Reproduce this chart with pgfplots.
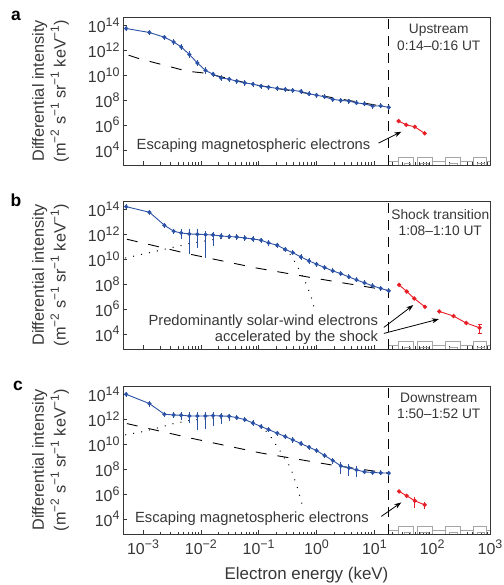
\documentclass[border=0pt]{standalone}
\usepackage{fontspec}
\setmainfont{Liberation Sans}
\usepackage{pgfplots}
\usepackage{pgfplotstable}
\pgfplotsset{compat=1.18}
\usetikzlibrary{arrows.meta}

\definecolor{specblue}{RGB}{44,82,166}
\definecolor{specred}{RGB}{232,30,38}
\definecolor{txt}{RGB}{55,55,55}
\definecolor{boxgray}{RGB}{165,165,165}

% superscript for tick labels and units
\newcommand\pw[1]{\raisebox{0.42em}{\fontsize{12.5}{13}\selectfont #1}}
\newcommand\up[1]{\raisebox{0.42em}{\fontsize{12}{13}\selectfont #1}}

% electron spectra: energy (keV), differential intensity
\pgfplotstableread{
E I
5.1e-4 5.50e13
1.29e-3 2.63e13
2.34e-3 1.10e13
3.39e-3 4.57e12
4.57e-3 1.82e12
6.31e-3 4.57e11
8.71e-3 9.55e10
1.20e-2 2.40e10
1.62e-2 1.20e10
2.24e-2 6.03e9
3.09e-2 4.79e9
4.17e-2 3.31e9
5.75e-2 2.40e9
7.94e-2 1.91e9
0.110 1.32e9
0.148 1.10e9
0.209 8.71e8
0.288 7.24e8
0.389 6.03e8
0.537 5.01e8
0.741 3.16e8
1.00 2.51e8
1.38 1.82e8
1.91 1.15e8
2.63 9.55e7
3.63 8.32e7
4.90 6.03e7
6.76 5.01e7
9.33 3.31e7
12.9 3.47e7
17.8 2.63e7
}\blueA

\pgfplotstableread{
E I
5.1e-4 1.62e14
1.29e-3 5.75e13
2.34e-3 5.25e12
3.39e-3 1.74e12
4.57e-3 1.26e12
6.31e-3 1.05e12
8.71e-3 1.00e12
1.20e-2 9.33e11
1.62e-2 8.71e11
2.24e-2 7.24e11
3.09e-2 6.46e11
4.17e-2 6.03e11
5.75e-2 5.01e11
7.94e-2 4.17e11
0.110 3.31e11
0.148 2.00e11
0.209 1.32e11
0.288 6.03e10
0.389 3.31e10
0.537 1.51e10
0.741 7.24e9
1.00 3.98e9
1.38 2.14e9
1.91 1.15e9
2.63 6.92e8
3.63 3.80e8
4.90 2.19e8
6.76 1.26e8
9.33 7.24e7
12.9 4.57e7
17.8 2.88e7
}\blueB

\pgfplotstableread{
E I
5.1e-4 1.00e14
1.29e-3 1.78e13
2.34e-3 2.51e12
3.39e-3 2.19e12
4.57e-3 2.09e12
6.31e-3 1.82e12
8.71e-3 1.82e12
1.20e-2 1.82e12
1.62e-2 1.95e12
2.24e-2 1.82e12
3.09e-2 1.74e12
4.17e-2 1.35e12
5.75e-2 9.33e11
7.94e-2 5.01e11
0.110 2.57e11
0.148 1.48e11
0.209 7.59e10
0.288 4.07e10
0.389 2.19e10
0.537 1.12e10
0.741 5.75e9
1.00 3.09e9
1.38 1.23e9
1.91 4.90e8
2.63 1.82e8
3.63 1.26e8
4.90 8.71e7
6.76 6.03e7
9.33 5.37e7
12.9 5.01e7
17.8 4.79e7
}\blueC

% error bar ends (low, high) of the points with visible bars
\pgfplotstableread{
E I
4.57e-3 1.02e12
4.57e-3 3.24e12
4.57e-3 nan
6.31e-3 2.29e11
6.31e-3 9.12e11
6.31e-3 nan
8.71e-3 5.37e10
8.71e-3 1.70e11
8.71e-3 nan
1.20e-2 1.35e10
1.20e-2 4.27e10
1.20e-2 nan
6.76 3.55e7
6.76 7.08e7
6.76 nan
9.33 2.09e7
9.33 5.25e7
9.33 nan
12.9 2.19e7
12.9 5.50e7
12.9 nan
17.8 1.86e7
17.8 3.72e7
}\errA

\pgfplotstableread{
E I
2.34e-3 3.72e12
2.34e-3 7.41e12
2.34e-3 nan
3.39e-3 1.23e12
3.39e-3 2.45e12
3.39e-3 nan
4.57e-3 3.98e11
4.57e-3 2.51e12
4.57e-3 nan
6.31e-3 2.51e10
6.31e-3 2.51e12
6.31e-3 nan
8.71e-3 8.51e10
8.71e-3 2.51e12
8.71e-3 nan
1.20e-2 1.35e10
1.20e-2 1.95e12
1.20e-2 nan
1.62e-2 1.15e11
1.62e-2 1.51e12
1.62e-2 nan
2.24e-2 3.98e11
2.24e-2 1.20e12
2.24e-2 nan
12.9 3.24e7
12.9 6.46e7
}\errB

\pgfplotstableread{
E I
1.29e-3 1.00e13
1.29e-3 3.16e13
1.29e-3 nan
4.57e-3 8.32e11
4.57e-3 4.07e12
4.57e-3 nan
6.31e-3 5.37e11
6.31e-3 4.07e12
6.31e-3 nan
8.71e-3 1.32e11
8.71e-3 4.07e12
8.71e-3 nan
1.20e-2 1.78e11
1.20e-2 4.07e12
1.20e-2 nan
1.62e-2 2.88e11
1.62e-2 4.07e12
1.62e-2 nan
2.24e-2 4.47e11
2.24e-2 3.16e12
2.24e-2 nan
3.09e-2 7.24e11
3.09e-2 2.51e12
3.09e-2 nan
1.91 2.51e8
1.91 8.51e8
1.91 nan
2.63 3.98e7
2.63 3.63e8
2.63 nan
3.63 2.88e7
3.63 2.51e8
3.63 nan
4.90 2.14e7
4.90 1.82e8
4.90 nan
6.76 3.98e7
6.76 1.00e8
}\errC

% high-energy spectra
\pgfplotstableread{
E I
26.3 2.09e6
35.5 1.05e6
50.1 7.24e5
74.1 2.19e5
}\redA

\pgfplotstableread{
E I
26.8 8.71e7
36.3 2.57e7
49.0 7.08e6
75.0 1.51e6
}\redBlow

\pgfplotstableread{
E I
133 6.46e5
234 2.75e5
389 7.59e4
661 3.16e4
}\redBhigh

\pgfplotstableread{
E I
26.8 1.62e6
36.3 7.24e5
50.1 2.88e5
74.1 1.38e5
}\redC

\pgfplotstableread{
E I
36.3 5.13e5
36.3 1.02e6
36.3 nan
50.1 7.59e4
50.1 6.03e5
50.1 nan
74.1 6.31e4
74.1 2.14e5
}\errRedC

% one-count level boxes of the high-energy instrument
\pgfplotstableread{
E I
26.3 631
26.3 2820
47.9 2820
47.9 631
47.9 nan
56.2 631
56.2 2820
100 2820
100 631
100 nan
170 631
170 2820
302 2820
302 631
302 nan
513 631
513 2820
871 2820
871 631
871 nan
17.8 1260
26.3 1260
26.3 nan
100 1260
170 1260
170 nan
302 1260
513 1260
513 nan
871 1260
1000 1260
1000 nan
33 631
33 890
42 890
42 631
42 nan
63 631
63 890
85 890
85 631
85 nan
200 631
200 890
270 890
270 631
270 nan
600 631
600 890
800 890
800 631
}\grayboxes

\tikzset{
  fitdash/.style={black, line width=0.9bp, dash pattern=on 11bp off 11bp},
  fitdot/.style={black, line width=1.3bp, line cap=round, dash pattern=on 0.1bp off 8bp},
  vline/.style={black, line width=0.9bp, dash pattern=on 10bp off 7bp},
  graybox/.style={boxgray, line width=0.6bp},
  bluel/.style={specblue, line width=0.9bp, mark=*, mark size=1.6bp},
  bluebar/.style={specblue, only marks, mark=|, mark size=2.6bp, mark options={line width=0.8bp}},
  bluerr/.style={specblue, line width=0.9bp},
  redl/.style={specred, line width=0.9bp, mark=*, mark size=1.7bp},
  rederr/.style={specred, line width=0.9bp},
  note/.style={font=\fontsize{14.8}{16}\selectfont, text=txt},
  timenote/.style={font=\fontsize{13.8}{16.5}\selectfont, text=txt, align=center},
  arr/.style={-{Stealth[length=7bp,width=5bp]}, line width=0.8bp, black},
  letter/.style={font=\bfseries\fontsize{17.5}{18}\selectfont, text=black},
}

\begin{document}
\begin{tikzpicture}
\useasboundingbox (-123bp,-51bp) rectangle (381bp,534bp);

% ---- a: upstream
\begin{axis}[name=pa, at={(0,369bp)}, anchor=south west,
    scale only axis, width=367bp, height=148bp,
    xmode=log, ymode=log,
    xmin=4.5e-4, xmax=1e3, ymin=631, ymax=4.6e14,
    xtick={1e-3,1e-2,1e-1,1,10,100,1000}, xticklabels={},
    ytick={1e4,1e6,1e8,1e10,1e12,1e14},
    yticklabels={10\pw{4},10\pw{6},10\pw{8},10\pw{10},10\pw{12},10\pw{14}},
    yminorticks=false,
    xtick pos=lower, ytick pos=left,
    major tick length=4bp, minor tick length=2.5bp,
    tick style={txt, line width=0.5pt},
    axis line style={txt, line width=0.6pt},
    tick label style={font=\fontsize{16}{16}\selectfont, text=txt},
    ylabel={Differential intensity\\(m\up{−2} s\up{−1} sr\up{−1} keV\up{−1})},
    ylabel style={at={(axis description cs:-0.1975,0.5)}, anchor=center, align=center,
      font=\fontsize{16.3}{22}\selectfont, text=txt},
    unbounded coords=jump]
  \addplot[graybox] table[x=E, y=I] {\grayboxes};
  \addplot[vline] coordinates {(17.8,631) (17.8,4.6e14)};
  \addplot[fitdash] coordinates {(5.62e-4,3.98e11) (8.32e-4,2.19e11) (3.80e-3,3.47e10)
    (5.75e-3,2.09e10) (1.26e-2,1.41e10) (7.94e-2,1.78e9) (1.0,2.63e8) (17.8,2.63e7)};
  \addplot[bluerr] table[x=E, y=I] {\errA};
  \addplot[bluebar] table[x=E, y=I] {\blueA};
  \addplot[bluel] table[x=E, y=I] {\blueA};
  \addplot[redl] table[x=E, y=I] {\redA};
  \node[timenote] at (axis cs:130,1.1e13) {Upstream\\0:14–0:16 UT};
  \node[note, anchor=east] at (axis cs:9.8,2.09e4) {Escaping magnetospheric electrons};
  \draw[arr] (axis cs:11.8,3.6e4) -- (axis cs:29.2,2.9e5);
\end{axis}

% ---- b: shock transition
\begin{axis}[name=pb, at={(0,185bp)}, anchor=south west,
    scale only axis, width=367bp, height=148bp,
    xmode=log, ymode=log,
    xmin=4.5e-4, xmax=1e3, ymin=631, ymax=4.6e14,
    xtick={1e-3,1e-2,1e-1,1,10,100,1000}, xticklabels={},
    ytick={1e4,1e6,1e8,1e10,1e12,1e14},
    yticklabels={10\pw{4},10\pw{6},10\pw{8},10\pw{10},10\pw{12},10\pw{14}},
    yminorticks=false,
    xtick pos=lower, ytick pos=left,
    major tick length=4bp, minor tick length=2.5bp,
    tick style={txt, line width=0.5pt},
    axis line style={txt, line width=0.6pt},
    tick label style={font=\fontsize{16}{16}\selectfont, text=txt},
    ylabel={Differential intensity\\(m\up{−2} s\up{−1} sr\up{−1} keV\up{−1})},
    ylabel style={at={(axis description cs:-0.1975,0.5)}, anchor=center, align=center,
      font=\fontsize{16.3}{22}\selectfont, text=txt},
    unbounded coords=jump]
  \addplot[graybox] table[x=E, y=I] {\grayboxes};
  \addplot[vline] coordinates {(17.8,631) (17.8,4.6e14)};
  \addplot[fitdash] coordinates {(5.25e-4,3.98e11) (6.46e-3,2.51e10) (8.91e-2,2.0e9)
    (1.0,2.82e8) (17.4,3.16e7)};
  \addplot[fitdot] coordinates {(5.0e-4,1.26e10) (2.0e-3,5.25e10) (6.31e-3,1.78e11)
    (2.14e-2,4.47e11) (5.01e-2,5.01e11) (0.1,3.55e11) (0.178,1.41e11) (0.251,7.08e10)
    (0.347,2.51e10) (0.447,3.98e9) (0.513,1.15e9) (0.631,1.78e8) (0.708,4.79e7)
    (0.813,8.51e6) (0.891,1.82e6)};
  \addplot[bluerr] table[x=E, y=I] {\errB};
  \addplot[bluebar] table[x=E, y=I] {\blueB};
  \addplot[bluel] table[x=E, y=I] {\blueB};
  \addplot[redl] table[x=E, y=I] {\redBlow};
  \addplot[redl] table[x=E, y=I] {\redBhigh};
  \addplot[rederr, mark=-, mark size=2bp, mark options={solid}] coordinates {(661,1.12e4) (661,6.31e4)};
  \node[timenote, fill=white, inner sep=1bp] at (axis cs:138,8.7e12) {Shock transition\\1:08–1:10 UT};
  \node[note, anchor=east, align=right] at (axis cs:13.3,2.29e4)
    {Predominantly solar-wind electrons\\accelerated by the shock};
  \draw[arr] (axis cs:14.6,3.39e4) -- (axis cs:47.2,2.09e6);
  \draw[arr] (axis cs:14.6,1.12e4) -- (axis cs:131,1.58e5);
\end{axis}

% ---- c: downstream
\begin{axis}[name=pc, at={(0,0)}, anchor=south west,
    scale only axis, width=367bp, height=148bp,
    xmode=log, ymode=log,
    xmin=4.5e-4, xmax=1e3, ymin=631, ymax=4.6e14,
    xtick={1e-3,1e-2,1e-1,1,10,100,1000},
    xticklabels={10\pw{−3},10\pw{−2},10\pw{−1},10\pw{0},10\pw{1},10\pw{2},10\pw{3}},
    xticklabel style={yshift=-2bp},
    ytick={1e4,1e6,1e8,1e10,1e12,1e14},
    yticklabels={10\pw{4},10\pw{6},10\pw{8},10\pw{10},10\pw{12},10\pw{14}},
    yminorticks=false,
    xtick pos=lower, ytick pos=left,
    major tick length=4bp, minor tick length=2.5bp,
    tick style={txt, line width=0.5pt},
    axis line style={txt, line width=0.6pt},
    tick label style={font=\fontsize{16}{16}\selectfont, text=txt},
    ylabel={Differential intensity\\(m\up{−2} s\up{−1} sr\up{−1} keV\up{−1})},
    ylabel style={at={(axis description cs:-0.1975,0.5)}, anchor=center, align=center,
      font=\fontsize{16.3}{22}\selectfont, text=txt},
    xlabel={Electron energy (keV)},
    xlabel style={at={(axis description cs:0.5,-0.28)}, anchor=center,
      font=\fontsize{17}{18}\selectfont, text=txt},
    unbounded coords=jump]
  \addplot[graybox] table[x=E, y=I] {\grayboxes};
  \addplot[vline] coordinates {(17.8,631) (17.8,4.6e14)};
  \addplot[fitdash] coordinates {(5.25e-4,4.47e11) (6.46e-3,3.16e10) (0.107,2.0e9)
    (2.0,2.0e8) (17.4,4.79e7)};
  \addplot[fitdot] coordinates {(5.0e-4,5.62e10) (9.77e-4,1.0e11) (2.09e-3,2.40e11)
    (3.02e-3,3.98e11) (6.31e-3,7.94e11) (1.58e-2,1.20e12) (3.98e-2,1.20e12)
    (7.94e-2,5.62e11) (0.115,2.51e11) (0.158,4.57e10) (0.234,2.88e9) (0.355,1.35e8)
    (0.398,2.88e7) (0.457,4.57e6) (0.513,7.24e5) (0.562,1.58e5)};
  \addplot[bluerr] table[x=E, y=I] {\errC};
  \addplot[bluebar] table[x=E, y=I] {\blueC};
  \addplot[bluel] table[x=E, y=I] {\blueC};
  \addplot[rederr] table[x=E, y=I] {\errRedC};
  \addplot[redl] table[x=E, y=I] {\redC};
  \node[timenote] at (axis cs:130,1.23e13) {Downstream\\1:50–1:52 UT};
  \node[note, anchor=east] at (axis cs:9.2,1.05e4) {Escaping magnetospheric electrons};
  \draw[arr] (axis cs:13.2,1.62e4) -- (axis cs:29.2,2.14e5);
\end{axis}

\node[letter] at (-107bp,518bp) {a};
\node[letter] at (-107bp,334bp) {b};
\node[letter] at (-105bp,148bp) {c};
\end{tikzpicture}
\end{document}
